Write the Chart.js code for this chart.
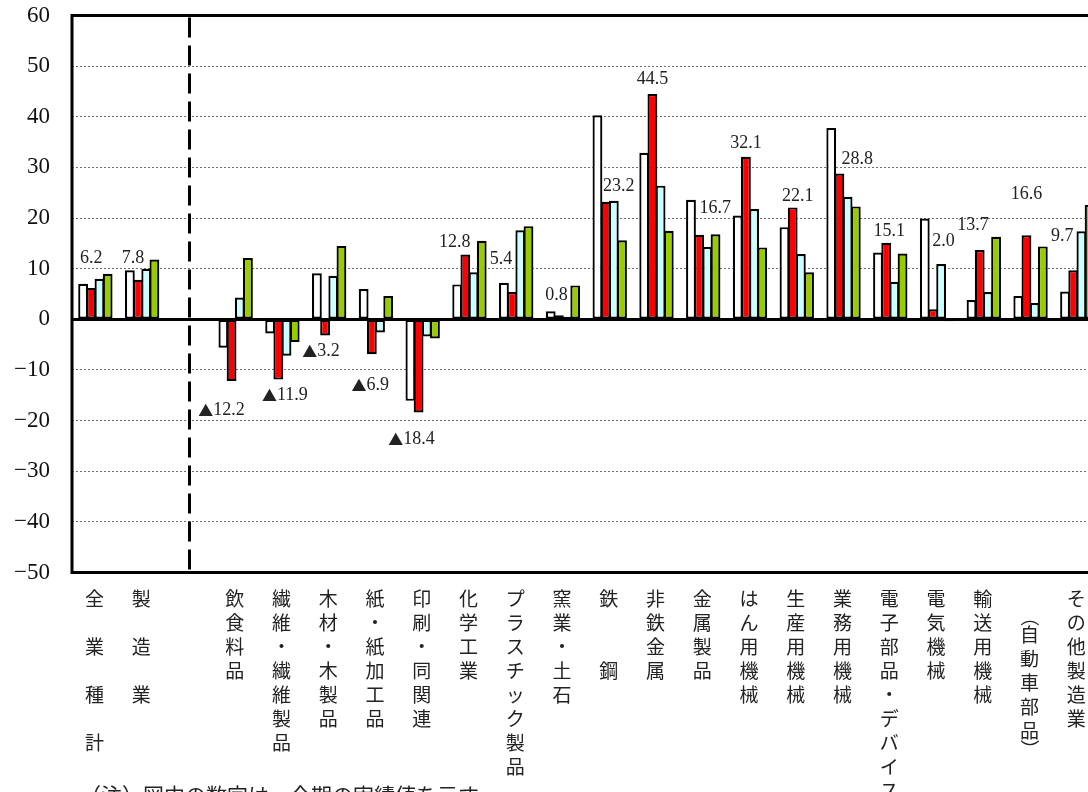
<!DOCTYPE html>
<html lang="ja">
<head>
<meta charset="utf-8">
<script src="https://cdn.jsdelivr.net/npm/chart.js@4/dist/chart.umd.min.js"></script>
<style>
  html, body { margin: 0; padding: 0; background: #fff; width: 1088px; height: 792px; overflow: hidden; }
  canvas { display: block; }
</style>
</head>
<body>
<canvas id="chart" width="1104" height="792"></canvas>
<script>
// Categories, written in vertical reading order (one character per line;
// full-width space = blank line, ASCII space = half line, parentheses turned).
const categories = [
  '全　業　種　計', '製　造　業', '',
  '飲食料品', '繊維・繊維製品', '木材・木製品', '紙・紙加工品', '印刷・同関連',
  '化学工業', 'プラスチック製品', '窯業・土石', '鉄　　鋼', '非鉄金属', '金属製品',
  'はん用機械', '生産用機械', '業務用機械', '電子部品・デバイス', '電気機械',
  '輸送用機械', '　（自動車部品）', 'その他製造業'
];

const seriesNames = ['系列1', '系列2', '系列3', '系列4'];

const series1 = [7.0, 9.7, null, -5.6, -2.8, 9.1, 6.0, -16.1, 6.9, 7.2, 1.6, 40.3, 32.9, 23.6, 20.5, 18.2, 37.8, 13.2, 19.9, 3.8, 4.6, 5.5];
const series2 = [6.2, 7.8, null, -12.2, -11.9, -3.2, -6.9, -18.4, 12.8, 5.4, 0.8, 23.2, 44.5, 16.7, 32.1, 22.1, 28.8, 15.1, 2.0, 13.7, 16.6, 9.7];
const series3 = [8.0, 10.0, null, 4.3, -7.2, 8.6, -2.6, -3.4, 9.3, 17.6, 0.5, 23.4, 26.4, 14.3, 21.8, 12.9, 24.2, 7.4, 10.9, 5.4, 3.2, 17.4];
const series4 = [9.0, 11.8, null, 12.1, -4.5, 14.5, 4.6, -3.8, 15.5, 18.4, 6.7, 15.6, 17.5, 16.8, 14.2, 9.3, 22.3, 13.0, -0.4, 16.3, 14.4, 22.6];

const yMin = -50;
const yMax = 60;
const yStep = 10;

const note = '（注）図中の数字は、今期の実績値を示す';

// Where each value label of series2 sits, in px from the end of its bar.
const labelOffsets = [
  [0, -30], [-5, -22], null, [-10, 29], [6.5, 16], [-4, 15.5], [-1.5, 31], [-7, 27],
  [-10.5, -12.5], [-11, -32.7], [-2.4, -20], [13, -16], [0, -14.4], [16, -26.7],
  [0, -14], [5, -11], [17.7, -14], [3, -11.5], [10.5, -68], [-6.7, -24.6], [0, -40.6], [-11, -34]
];

const NUM_FONT = "'Liberation Serif', 'DejaVu Serif', serif";
const JP_FONT = "'Noto Sans CJK JP', 'Noto Sans', sans-serif";

// Value label: a minus is written as ▲ followed by the magnitude.
function drawValueLabel(ctx, v, cx, cy) {
  const num = Math.abs(v).toFixed(1);
  const numFont = '18px ' + NUM_FONT;
  const triFont = '15px ' + JP_FONT;
  ctx.textBaseline = 'middle';
  ctx.textAlign = 'left';
  ctx.font = numFont;
  const wNum = ctx.measureText(num).width;
  let wTri = 0;
  if (v < 0) {
    ctx.font = triFont;
    wTri = ctx.measureText('▲').width;
  }
  let x0 = cx - (wTri + wNum) / 2;
  if (v < 0) {
    ctx.font = triFont;
    ctx.fillText('▲', x0, cy);
    x0 += wTri;
  }
  ctx.font = numFont;
  ctx.fillText(num, x0, cy);
}

const decorations = {
  id: 'decorations',
  beforeDatasetsDraw(chart) {
    const { ctx, chartArea: a, scales: { x, y } } = chart;
    ctx.save();
    ctx.strokeStyle = '#000';
    ctx.lineWidth = 3;
    // zero line
    const y0 = Math.round(y.getPixelForValue(0)) + 0.5;
    ctx.beginPath();
    ctx.moveTo(a.left, y0);
    ctx.lineTo(a.right, y0);
    ctx.stroke();
    // dashed divider in the empty slot
    const gap = categories.indexOf('');
    const xd = Math.round(x.getPixelForValue(gap)) + 0.5;
    ctx.setLineDash([20, 8]);
    ctx.beginPath();
    ctx.moveTo(xd, a.top + 2);
    ctx.lineTo(xd, a.bottom);
    ctx.stroke();
    ctx.restore();
  },
  afterDatasetsDraw(chart) {
    const { ctx, chartArea: a, scales: { x } } = chart;
    ctx.save();

    // plot frame
    ctx.strokeStyle = '#000';
    ctx.lineWidth = 3;
    ctx.strokeRect(a.left, a.top, a.right - a.left, a.bottom - a.top);

    // value labels on series2
    const meta = chart.getDatasetMeta(1);
    ctx.fillStyle = '#222';
    series2.forEach((v, i) => {
      if (v === null || !labelOffsets[i]) return;
      const el = meta.data[i];
      const [dx, dy] = labelOffsets[i];
      drawValueLabel(ctx, v, el.x + dx, el.y + dy);
    });

    // vertical category labels under the plot
    ctx.font = '19px ' + JP_FONT;
    ctx.fillStyle = '#222';
    ctx.textAlign = 'center';
    ctx.textBaseline = 'middle';
    const line = 24;
    chart.data.labels.forEach((lab, i) => {
      const cx = x.getPixelForValue(i) - 1;
      let top = 587;
      for (const ch of lab) {
        if (ch === ' ') { top += line / 2; continue; }
        if (ch === '（' || ch === '）') {
          const cy = top + line / 4;
          ctx.save();
          ctx.translate(cx, cy);
          ctx.rotate(Math.PI / 2);
          ctx.fillText(ch, 0, 0);
          ctx.restore();
          top += line / 2;
          continue;
        }
        ctx.fillText(ch, cx, top + line / 2);
        top += line;
      }
    });

    // footnote
    ctx.textAlign = 'left';
    ctx.font = '21px ' + JP_FONT;
    ctx.fillText(note, 80, 795);
    ctx.restore();
  }
};

const barStyle = { borderColor: '#000', borderWidth: 2.2, borderSkipped: false };

new Chart(document.getElementById('chart'), {
  type: 'bar',
  data: {
    labels: categories,
    datasets: [
      { label: seriesNames[0], data: series1, backgroundColor: '#FFFFFF', ...barStyle },
      { label: seriesNames[1], data: series2, backgroundColor: '#FF0000', ...barStyle },
      { label: seriesNames[2], data: series3, backgroundColor: '#CCFFFF', ...barStyle },
      { label: seriesNames[3], data: series4, backgroundColor: '#99CC00', ...barStyle }
    ]
  },
  options: {
    responsive: false,
    animation: false,
    layout: { padding: { top: 15.5, bottom: 219.5, left: 0, right: 3.3 } },
    datasets: { bar: { categoryPercentage: 0.70, barPercentage: 1.2 } },
    plugins: { legend: { display: false }, tooltip: { enabled: false } },
    scales: {
      x: { display: false },
      y: {
        min: yMin,
        max: yMax,
        afterFit(scale) { scale.width = 72; },
        ticks: {
          stepSize: yStep,
          padding: 0,
          color: '#111',
          font: { family: NUM_FONT, size: 23 },
          callback: v => (v < 0 ? '−' + Math.abs(v) : String(v))
        },
        grid: {
          drawTicks: true,
          tickLength: 22,
          tickColor: 'rgba(0,0,0,0)',
          lineWidth: 1,
          color: c => {
            const v = c.tick ? c.tick.value : null;
            return (v === 0 || v === yMin || v === yMax) ? 'rgba(0,0,0,0)' : '#6e6e6e';
          }
        },
        border: { display: false, dash: [2, 2] }
      }
    }
  },
  plugins: [decorations]
});
</script>
</body>
</html>
